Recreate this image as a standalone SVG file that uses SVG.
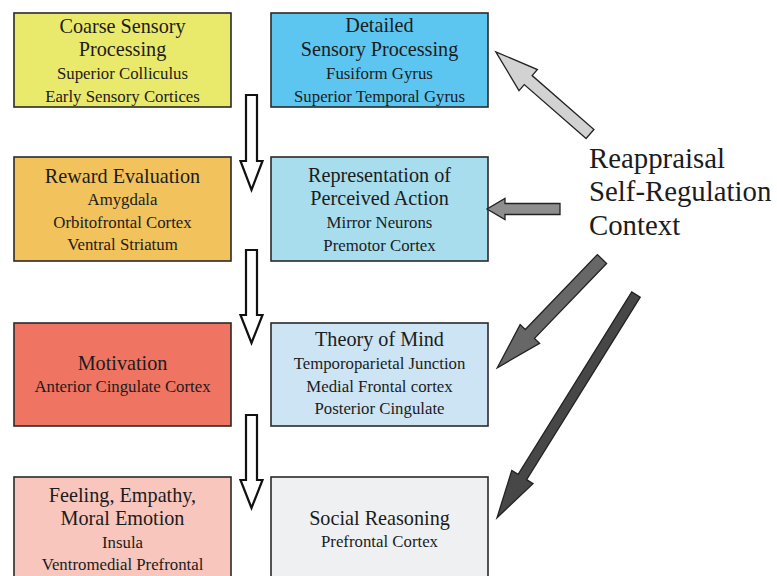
<svg xmlns="http://www.w3.org/2000/svg" width="777" height="576" viewBox="0 0 777 576">
<style>
.box{stroke:#2a2a2a;stroke-width:1.6}
text{font-family:"Liberation Serif","Times New Roman",serif;fill:#1c1c1c;text-anchor:middle}
.t{font-size:20.2px}
.s{font-size:16.8px}
.big{font-size:28.8px;text-anchor:start}
.down{fill:#ffffff;stroke:#111;stroke-width:2.2;stroke-linejoin:miter}
.ga{stroke:#222;stroke-width:1.3;stroke-linejoin:miter}
</style>
<rect width="777" height="576" fill="#ffffff"/>
<g id="coarse">
<rect class="box" x="14" y="13" width="217" height="94" fill="#e9e96c"/>
<text class="t" x="122.5" y="33">Coarse Sensory</text>
<text class="t" x="122.5" y="56">Processing</text>
<text class="s" x="122.5" y="79">Superior Colliculus</text>
<text class="s" x="122.5" y="102">Early Sensory Cortices</text>
</g>
<g id="detailed">
<rect class="box" x="271" y="13" width="217" height="94" fill="#5cc6f0"/>
<text class="t" x="379.5" y="32">Detailed</text>
<text class="t" x="379.5" y="56">Sensory Processing</text>
<text class="s" x="379.5" y="79">Fusiform Gyrus</text>
<text class="s" x="379.5" y="102">Superior Temporal Gyrus</text>
</g>
<g id="reward">
<rect class="box" x="14" y="157" width="217" height="104" fill="#f2c25c"/>
<text class="t" x="122.5" y="183">Reward Evaluation</text>
<text class="s" x="122.5" y="205">Amygdala</text>
<text class="s" x="122.5" y="228">Orbitofrontal Cortex</text>
<text class="s" x="122.5" y="250">Ventral Striatum</text>
</g>
<g id="representation">
<rect class="box" x="271" y="157" width="217" height="104" fill="#a8ddee"/>
<text class="t" x="379.5" y="182">Representation of</text>
<text class="t" x="379.5" y="205">Perceived Action</text>
<text class="s" x="379.5" y="228">Mirror Neurons</text>
<text class="s" x="379.5" y="251">Premotor Cortex</text>
</g>
<g id="motivation">
<rect class="box" x="14" y="323" width="217" height="103" fill="#ef7462"/>
<text class="t" x="122.5" y="370">Motivation</text>
<text class="s" x="122.5" y="392">Anterior Cingulate Cortex</text>
</g>
<g id="theory">
<rect class="box" x="271" y="323" width="217" height="103" fill="#cde4f4"/>
<text class="t" x="379.5" y="346">Theory of Mind</text>
<text class="s" x="379.5" y="369">Temporoparietal Junction</text>
<text class="s" x="379.5" y="392">Medial Frontal cortex</text>
<text class="s" x="379.5" y="414">Posterior Cingulate</text>
</g>
<g id="feeling">
<rect class="box" x="14" y="477" width="217" height="120" fill="#f8c6bd"/>
<text class="t" x="122.5" y="502">Feeling, Empathy,</text>
<text class="t" x="122.5" y="525">Moral Emotion</text>
<text class="s" x="122.5" y="548">Insula</text>
<text class="s" x="122.5" y="570">Ventromedial Prefrontal</text>
</g>
<g id="social">
<rect class="box" x="271" y="477" width="217" height="120" fill="#eff0f2"/>
<text class="t" x="379.5" y="525">Social Reasoning</text>
<text class="s" x="379.5" y="547">Prefrontal Cortex</text>
</g>
<g id="context">
<text class="big" x="589" y="168">Reappraisal</text>
<text class="big" x="589" y="201">Self-Regulation</text>
<text class="big" x="589" y="235">Context</text>
</g>
<g id="connectors">
<polygon class="down" points="246,95 257,95 257,161 262.5,161 251.5,190 240.5,161 246,161"/>
<polygon class="down" points="246,250 257,250 257,315 262.5,315 251.5,343 240.5,315 246,315"/>
<polygon class="down" points="246,415 257,415 257,480 262.5,480 251.5,508 240.5,480 246,480"/>
<polygon class="ga" fill="#d2d2d2" transform="translate(590,134) rotate(221.1)" points="0,-6 82,-6 82,-14 125,0 82,14 82,6 0,6"/>
<polygon class="ga" fill="#8e8e8e" transform="translate(560,209) rotate(180)" points="0,-5.5 55,-5.5 55,-10.5 73,0 55,10.5 55,5.5 0,5.5"/>
<polygon class="ga" fill="#676767" transform="translate(602,259) rotate(133.9)" points="0,-6.4 104,-6.4 104,-13.5 151,0 104,13.5 104,6.4 0,6.4"/>
<polygon class="ga" fill="#474747" transform="translate(636,294.5) rotate(121.9)" points="0,-5 215,-5 215,-12.5 263,0 215,12.5 215,5 0,5"/>
</g>
</svg>
